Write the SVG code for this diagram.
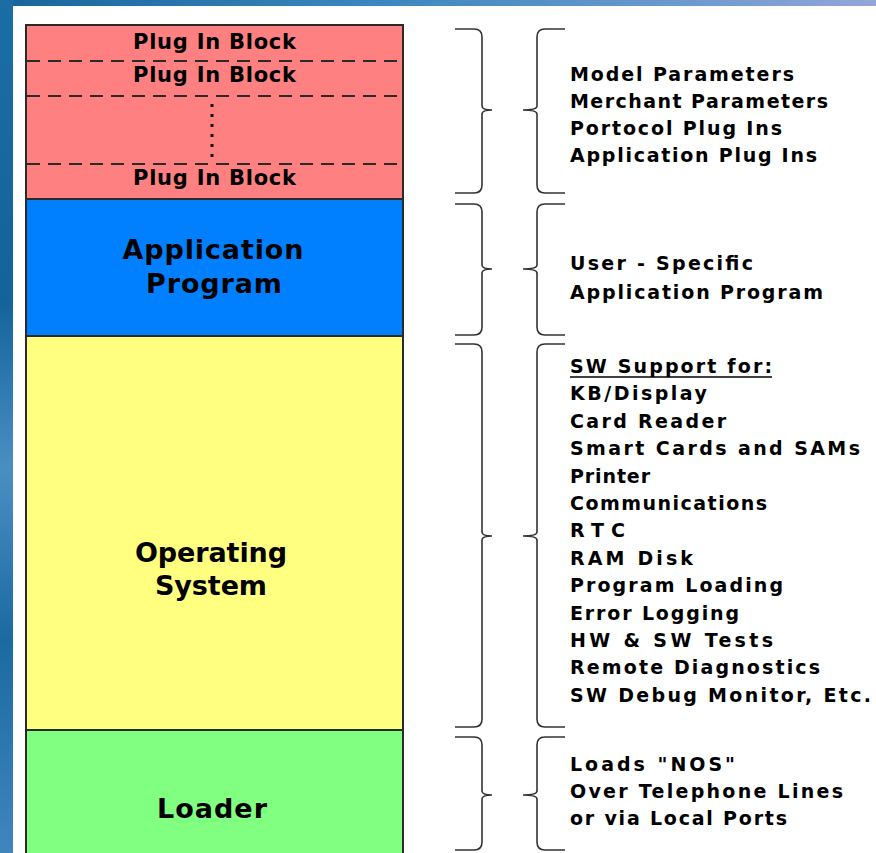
<svg xmlns="http://www.w3.org/2000/svg" width="876" height="853" viewBox="0 0 876 853">
  <style>
    .layer { stroke: #2a2a2a; stroke-width: 2; }
    .sep { stroke: #2a2a2a; stroke-width: 2; stroke-dasharray: 13 8; fill: none; }
    .dots { stroke: #111; stroke-width: 3; stroke-dasharray: 3 7; fill: none; }
    .big { font-family: "DejaVu Sans", "Liberation Sans", sans-serif; font-weight: bold; font-size: 27px; fill: #000; text-anchor: middle; }
    .blk { font-family: "DejaVu Sans", "Liberation Sans", sans-serif; font-weight: bold; font-size: 21px; fill: #000; text-anchor: middle; }
    .note { font-family: "DejaVu Sans", "Liberation Sans", sans-serif; font-weight: bold; font-size: 19px; fill: #000; }
    .brace { fill: none; stroke: #333; stroke-width: 1.6; }
  </style>
  <defs>
    <linearGradient id="topBand" x1="0" y1="0" x2="1" y2="0">
      <stop offset="0" stop-color="#16669c"/>
      <stop offset="0.45" stop-color="#3d88c0"/>
      <stop offset="0.8" stop-color="#6f9bcf"/>
      <stop offset="1" stop-color="#93a6d8"/>
    </linearGradient>
    <linearGradient id="sideBand" x1="0" y1="0" x2="0" y2="1">
      <stop offset="0" stop-color="#1b6ea5"/>
      <stop offset="0.35" stop-color="#12639a"/>
      <stop offset="0.55" stop-color="#4a8fc4"/>
      <stop offset="0.75" stop-color="#1a6aa0"/>
      <stop offset="1" stop-color="#3f86bd"/>
    </linearGradient>
  </defs>

  <!-- page background -->
  <rect x="0" y="0" width="876" height="853" fill="#ffffff"/>
  <rect x="0" y="0" width="876" height="6" fill="url(#topBand)"/>
  <rect x="0" y="0" width="13" height="853" fill="url(#sideBand)"/>

  <!-- software stack -->
  <g id="layer-plugins">
    <rect class="layer" x="26" y="25" width="377" height="174" fill="#ff8080"/>
    <line class="sep" x1="27" y1="61" x2="402" y2="61"/>
    <line class="sep" x1="27" y1="96" x2="402" y2="96"/>
    <line class="sep" x1="27" y1="164" x2="402" y2="164"/>
    <line class="dots" x1="212" y1="104" x2="212" y2="160"/>
    <text class="blk" x="214.5" y="49" textLength="163" lengthAdjust="spacing">Plug In Block</text>
    <text class="blk" x="214.5" y="82" textLength="163" lengthAdjust="spacing">Plug In Block</text>
    <text class="blk" x="214.5" y="185" textLength="163" lengthAdjust="spacing">Plug In Block</text>
  </g>

  <g id="layer-application">
    <rect class="layer" x="26" y="199" width="377" height="137" fill="#0080ff"/>
    <text class="big" x="213" y="259" textLength="181" lengthAdjust="spacing">Application</text>
    <text class="big" x="214" y="293" textLength="136" lengthAdjust="spacing">Program</text>
  </g>

  <g id="layer-os">
    <rect class="layer" x="26" y="336" width="377" height="394" fill="#ffff80"/>
    <text class="big" x="211" y="562" textLength="152" lengthAdjust="spacing">Operating</text>
    <text class="big" x="211" y="595" textLength="112" lengthAdjust="spacing">System</text>
  </g>

  <g id="layer-loader">
    <rect class="layer" x="26" y="730" width="377" height="135" fill="#80ff80"/>
    <text class="big" x="212" y="818" textLength="110" lengthAdjust="spacing">Loader</text>
  </g>

  <!-- paired braces linking each layer to its description -->
  <g id="connectors">
    <path class="brace" d="M455 29 H474 Q482 29 482 37 V106 Q482 110 492 110 Q482 110 482 114 V185 Q482 193 474 193 H455"/>
    <path class="brace" d="M565 29 H545 Q537 29 537 37 V106 Q537 110 523 110 Q537 110 537 114 V185 Q537 193 545 193 H565"/>

    <path class="brace" d="M455 204 H474 Q482 204 482 212 V265 Q482 269 492 269 Q482 269 482 273 V327 Q482 335 474 335 H455"/>
    <path class="brace" d="M565 204 H545 Q537 204 537 212 V265 Q537 269 523 269 Q537 269 537 273 V327 Q537 335 545 335 H565"/>

    <path class="brace" d="M455 344 H474 Q482 344 482 352 V532 Q482 536 492 536 Q482 536 482 540 V719 Q482 727 474 727 H455"/>
    <path class="brace" d="M565 344 H545 Q537 344 537 352 V532 Q537 536 523 536 Q537 536 537 540 V719 Q537 727 545 727 H565"/>

    <path class="brace" d="M455 737 H474 Q482 737 482 745 V791 Q482 795 492 795 Q482 795 482 799 V842 Q482 850 474 850 H455"/>
    <path class="brace" d="M565 737 H545 Q537 737 537 745 V791 Q537 795 523 795 Q537 795 537 799 V842 Q537 850 545 850 H565"/>
  </g>

  <!-- descriptions -->
  <g id="notes-plugins">
    <text class="note" x="570" y="81" textLength="224" lengthAdjust="spacing">Model Parameters</text>
    <text class="note" x="570" y="108" textLength="258" lengthAdjust="spacing">Merchant Parameters</text>
    <text class="note" x="570" y="135" textLength="212" lengthAdjust="spacing">Portocol Plug Ins</text>
    <text class="note" x="570" y="162" textLength="247" lengthAdjust="spacing">Application Plug Ins</text>
  </g>

  <g id="notes-application">
    <text class="note" x="570" y="270" textLength="183" lengthAdjust="spacing">User - Specific</text>
    <text class="note" x="570" y="299" textLength="253" lengthAdjust="spacing">Application Program</text>
  </g>

  <g id="notes-os">
    <text class="note" x="570" y="373" textLength="202" lengthAdjust="spacing">SW Support for:</text>
    <line x1="570" y1="377" x2="772" y2="377" stroke="#000" stroke-width="1.6"/>
    <text class="note" x="570" y="400.4" textLength="137" lengthAdjust="spacing">KB/Display</text>
    <text class="note" x="570" y="427.8" textLength="156" lengthAdjust="spacing">Card Reader</text>
    <text class="note" x="570" y="455.2" textLength="290" lengthAdjust="spacing">Smart Cards and SAMs</text>
    <text class="note" x="570" y="482.6" textLength="80" lengthAdjust="spacing">Printer</text>
    <text class="note" x="570" y="510" textLength="197" lengthAdjust="spacing">Communications</text>
    <text class="note" x="570" y="537.4" textLength="55" lengthAdjust="spacing">RTC</text>
    <text class="note" x="570" y="564.8" textLength="123" lengthAdjust="spacing">RAM Disk</text>
    <text class="note" x="570" y="592.2" textLength="213" lengthAdjust="spacing">Program Loading</text>
    <text class="note" x="570" y="619.6" textLength="169" lengthAdjust="spacing">Error Logging</text>
    <text class="note" x="570" y="647" textLength="203" lengthAdjust="spacing">HW &amp; SW Tests</text>
    <text class="note" x="570" y="674.4" textLength="250" lengthAdjust="spacing">Remote Diagnostics</text>
    <text class="note" x="570" y="701.8" textLength="301" lengthAdjust="spacing">SW Debug Monitor, Etc.</text>
  </g>

  <g id="notes-loader">
    <text class="note" x="570" y="771" textLength="165" lengthAdjust="spacing">Loads "NOS"</text>
    <text class="note" x="570" y="798" textLength="273" lengthAdjust="spacing">Over Telephone Lines</text>
    <text class="note" x="570" y="825" textLength="217" lengthAdjust="spacing">or via Local Ports</text>
  </g>
</svg>
